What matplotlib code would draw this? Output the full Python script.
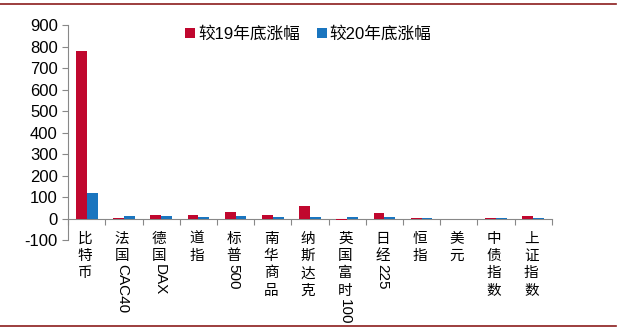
import numpy as np
import matplotlib.pyplot as plt
from matplotlib.lines import Line2D

plt.rcParams['font.family'] = ['Liberation Sans', 'Noto Sans CJK SC']
plt.rcParams['axes.unicode_minus'] = False

# (chinese part, ascii part)
names_cn = ['比特币', '法国', '德国', '道指', '标普', '南华商品', '纳斯达克', '英国富时', '日经', '恒指', '美元', '中债指数', '上证指数']
names_en = ['', 'CAC40', 'DAX', '', '500', '', '', '100', '225', '', '', '', '']
vs19 = [780, 3, 15, 18, 30, 18, 57, -8, 25, 2, -3, 3, 12]
vs20 = [118, 12, 11, 10, 12, 10, 10, 7, 7, 4, 0, 1, 1]
series_names = ['较19年底涨幅', '较20年底涨幅']

red = '#C0072E'
blue = '#1A75BF'

fig = plt.figure(figsize=(6.2, 3.29), dpi=100)
ax = fig.add_axes([0.11, 0.27, 0.78, 0.654])

x = np.arange(len(names_cn))
w = 0.29
ax.bar(x - w / 2, vs19, w, color=red, label=series_names[0], zorder=3)
ax.bar(x + w / 2, vs20, w, color=blue, label=series_names[1], zorder=3)

ax.set_ylim(-100, 900)
ax.set_xlim(-0.5, len(names_cn) - 0.5)
ax.set_yticks(range(-100, 901, 100))
ax.tick_params(axis='y', labelsize=12, length=4, color='#888888')
for s in ['top', 'right']:
    ax.spines[s].set_visible(False)
ax.spines['bottom'].set_position(('data', 0))
ax.spines['bottom'].set_color('#888888')
ax.spines['bottom'].set_zorder(2)
ax.spines['left'].set_color('#888888')
ax.set_xticks(np.arange(-0.5, len(names_cn), 1))
ax.set_xticklabels([])
ax.tick_params(axis='x', length=4, direction='out', color='#888888')

# vertical labels
trans = ax.get_xaxis_transform()
step = 0.081
for i in x:
    cn = names_cn[i]
    y0 = 0.04
    for j, ch in enumerate(cn):
        ax.text(i - 0.05, y0 - j * step, ch, transform=trans, ha='center', va='top',
                fontsize=10.5, family=['Noto Sans CJK SC'], clip_on=False)
    if names_en[i]:
        ax.text(i - 0.05, y0 - len(cn) * step + 0.01, names_en[i], transform=trans,
                ha='center', va='top', rotation=-90, fontsize=11, clip_on=False)

ax.legend(loc='upper left', bbox_to_anchor=(0.21, 1.065), ncol=2, frameon=False,
          handlelength=0.6, handleheight=0.6, handletextpad=0.2, columnspacing=1.0,
          prop={'family': ['Liberation Sans', 'Noto Sans CJK SC'], 'size': 12})

# dark red frame lines
fig.add_artist(Line2D([0, 0.993], [0.988, 0.988], color='#8B1C1C', lw=1.2))
fig.add_artist(Line2D([0, 0.993], [0.008, 0.008], color='#8B1C1C', lw=1.2))

fig.savefig('out.png', dpi=100)
